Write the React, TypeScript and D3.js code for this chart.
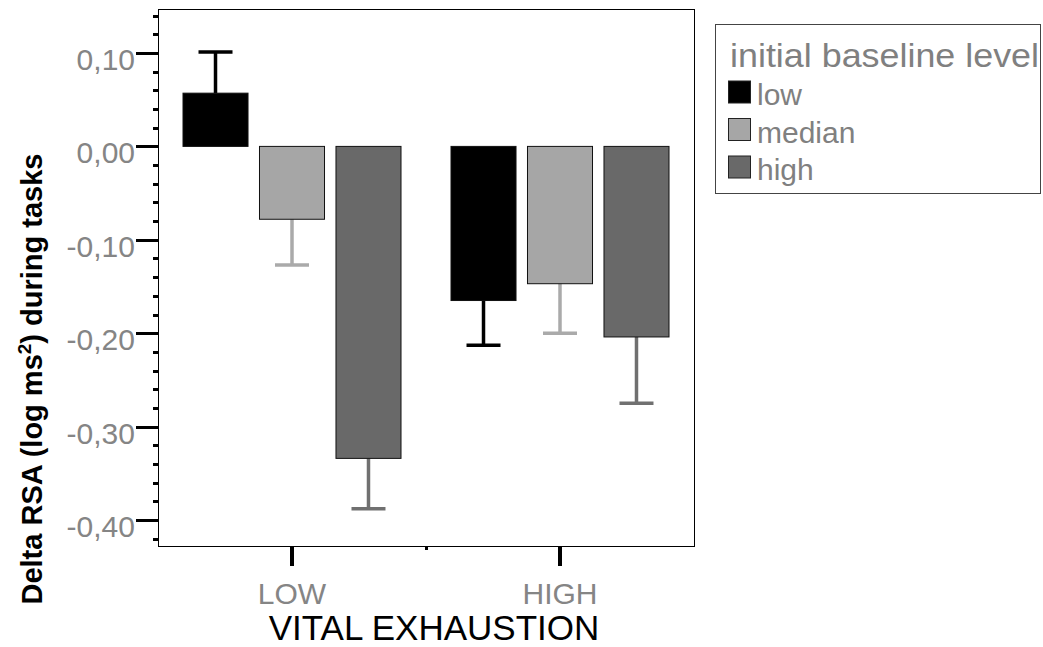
import React from "react";
import * as d3 from "d3";

const categories = ["LOW", "HIGH"];
const seriesNames = ["low", "median", "high"];
const meanValues: number[][] = [
  [0.057, -0.078, -0.334],
  [-0.165, -0.147, -0.204],
];
const errorEnds: number[][] = [
  [0.101, -0.127, -0.388],
  [-0.213, -0.2, -0.275],
];
const yTickValues = [0.1, 0.0, -0.1, -0.2, -0.3, -0.4];
const yTickLabels = ["0,10", "0,00", "-0,10", "-0,20", "-0,30", "-0,40"];
const yMinorValues = d3.range(-21, 8).map((i) => i * 0.02);
const fillColors = ["#000000", "#a6a6a6", "#696969"];
const errColors = ["#000000", "#aaaaaa", "#707070"];
const yDomain = [-0.4278, 0.1471];

const FONT = "'Liberation Sans', Arial, Helvetica, sans-serif";

export default function App() {
  const W = 1043;
  const H = 647;
  const left = 158,
    right = 694,
    top = 9,
    bottom = 546;

  const y = d3.scaleLinear().domain(yDomain).range([bottom, top]);
  const x0 = d3.scaleBand<string>().domain(categories).range([left, right]).padding(0);
  const groupW = 218;
  const x1 = d3
    .scaleBand<string>()
    .domain(seriesNames)
    .range([0, groupW])
    .paddingInner(0.15)
    .paddingOuter(0);

  const capW = 34;
  const ry = (v: number) => Math.round(y(v)) + 0.5;

  return (
    <svg
      width={W}
      height={H}
      style={{ position: "absolute", left: 0, top: 0, display: "block", background: "#fff" }}
      fontFamily={FONT}
    >
      <rect x={0} y={0} width={W} height={H} fill="#fff" />
      {/* plot frame */}
      <rect x={left + 0.5} y={top + 0.5} width={right - left} height={bottom - top} fill="#fff" stroke="#000" strokeWidth={1} />

      {/* bars */}
      {categories.map((c, ci) => {
        const cx = (x0(c) as number) + x0.bandwidth() / 2;
        const gx = cx - groupW / 2;
        return (
          <g key={c}>
            {seriesNames.map((s, si) => {
              const v = meanValues[ci][si];
              const e = errorEnds[ci][si];
              const bx = gx + (x1(s) as number);
              const bw = x1.bandwidth();
              const y0 = y(0);
              const yv = y(v);
              const bcx = bx + bw / 2;
              return (
                <g key={s}>
                  <line x1={bcx} x2={bcx} y1={yv} y2={y(e)} stroke={errColors[si]} strokeWidth={3.5} />
                  <line
                    x1={bcx - capW / 2}
                    x2={bcx + capW / 2}
                    y1={y(e)}
                    y2={y(e)}
                    stroke={errColors[si]}
                    strokeWidth={3.5}
                  />
                  <rect
                    x={bx}
                    y={Math.min(y0, yv)}
                    width={bw}
                    height={Math.abs(yv - y0)}
                    fill={fillColors[si]}
                    stroke="#111"
                    strokeWidth={1}
                  />
                </g>
              );
            })}
          </g>
        );
      })}

      {/* y axis ticks */}
      <g shapeRendering="crispEdges">
        {yMinorValues.map((v, i) => (
          <line key={"m" + i} x1={153} x2={left} y1={ry(v)} y2={ry(v)} stroke="#000" strokeWidth={3} />
        ))}
        {yTickValues.map((v, i) => (
          <line key={"t" + i} x1={136} x2={left} y1={ry(v)} y2={ry(v)} stroke="#000" strokeWidth={3} />
        ))}
      </g>
      {yTickValues.map((v, i) => (
        <text key={"tl" + i} x={135} y={y(v) + 17} textAnchor="end" fontSize={30} fill="#858585">
          {yTickLabels[i]}
        </text>
      ))}

      {/* x axis ticks */}
      {categories.map((c) => {
        const cx = (x0(c) as number) + x0.bandwidth() / 2;
        return (
          <g key={"x" + c}>
            <line x1={cx} x2={cx} y1={bottom} y2={566} stroke="#000" strokeWidth={3.5} shapeRendering="crispEdges" />
            <text x={cx} y={604} textAnchor="middle" fontSize={30} fill="#858585">
              {c}
            </text>
          </g>
        );
      })}
      <line
        x1={x0("HIGH") as number}
        x2={x0("HIGH") as number}
        y1={bottom}
        y2={550}
        stroke="#000"
        strokeWidth={3}
        shapeRendering="crispEdges"
      />

      {/* axis titles */}
      <text x={434} y={640} textAnchor="middle" fontSize={35} fill="#000">
        VITAL EXHAUSTION
      </text>
      <text
        transform={`translate(42, 379) rotate(-90)`}
        textAnchor="middle"
        fontSize={29}
        fontWeight="bold"
        fill="#000"
      >
        Delta RSA (log ms
        <tspan fontSize={19} dy={-11}>
          2
        </tspan>
        <tspan dy={11}>) during tasks</tspan>
      </text>

      {/* legend */}
      <rect x={715.5} y={24.5} width={325} height={169} fill="#fff" stroke="#444" strokeWidth={1} />
      <text x={730} y={67} fontSize={33} fill="#808080" textLength={309} lengthAdjust="spacingAndGlyphs">
        initial baseline level
      </text>
      {seriesNames.map((s, si) => {
        const sy = 81 + si * 37.5;
        return (
          <g key={"l" + s}>
            <rect x={728.5} y={sy} width={22} height={22} fill={fillColors[si]} stroke="#222" strokeWidth={1} />
            <text x={757} y={sy + 24} fontSize={30} fill="#808080">
              {s}
            </text>
          </g>
        );
      })}
    </svg>
  );
}
